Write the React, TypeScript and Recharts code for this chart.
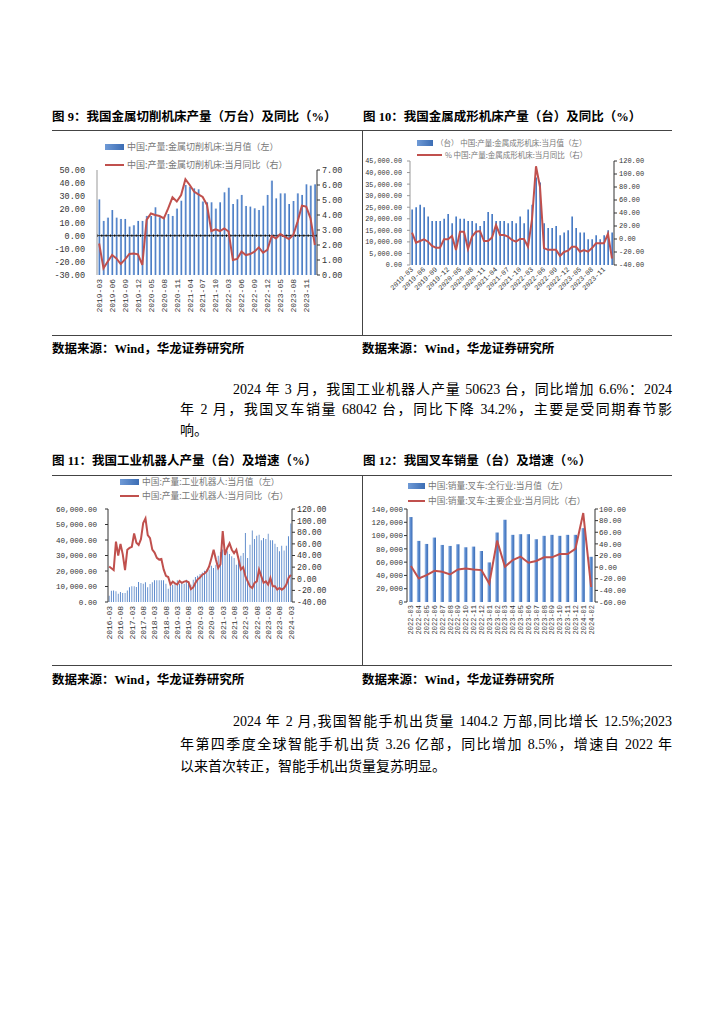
import React from "react";
import { ComposedChart, Bar, Line, XAxis, YAxis, ReferenceLine } from "recharts";

// 金属切削 / 成形机床：月度（1-2 月合并不单列）
const machineMonths = [
  "2019-03", "2019-04", "2019-05", "2019-06", "2019-07", "2019-08", "2019-09", "2019-10", "2019-11", "2019-12",
  "2020-03", "2020-04", "2020-05", "2020-06", "2020-07", "2020-08", "2020-09", "2020-10", "2020-11", "2020-12",
  "2021-03", "2021-04", "2021-05", "2021-06", "2021-07", "2021-08", "2021-09", "2021-10", "2021-11", "2021-12",
  "2022-03", "2022-04", "2022-05", "2022-06", "2022-07", "2022-08", "2022-09", "2022-10", "2022-11", "2022-12",
  "2023-03", "2023-04", "2023-05", "2023-06", "2023-07", "2023-08", "2023-09", "2023-10", "2023-11", "2023-12",
  "2024-03",
];

// 图9 左：万台
const cuttingOutput = [
  27.6, 11.2, 13.7, 19.5, 13.7, 12.7, 12.7, 6.9, 7.9, 11.2,
  11.2, 15.0, 15.0, 21.6, 14.0, 14.5, 16.5, 15.0, 20.6, 26.6,
  38.6, 37.3, 36.0, 35.3, 26.0, 25.4, 25.4, 20.6, 25.4, 33.0,
  36.5, 24.1, 27.7, 31.0, 22.6, 22.1, 20.8, 19.5, 22.8, 31.0,
  41.9, 28.4, 32.2, 32.2, 24.1, 26.4, 32.2, 31.0, 39.1, 38.1,
  39.1,
];
// 图9 右
const cuttingYoy = [
  2.1, 0.45, 0.9, 1.33, 1.1, 0.73, 1.04, 1.4, 1.44, 1.38,
  0.67, 3.67, 4.1, 4.0, 3.93, 3.78, 4.44, 5.18, 4.9, 5.33,
  6.38, 6.0, 5.56, 5.38, 5.2, 4.67, 2.93, 3.04, 2.93, 3.1,
  2.9, 1.0, 1.07, 1.56, 1.33, 1.4, 1.56, 1.84, 1.49, 1.67,
  2.6, 2.44, 2.73, 2.56, 2.4, 2.67, 3.56, 4.62, 4.56, 3.78,
  2.0,
];

// 图10 左：台
const formingOutput = [
  24000, 25000, 26100, 25000, 21000, 19000, 19000, 19000, 20000, 22100,
  18100, 21000, 20000, 20000, 19000, 19000, 18100, 16900, 19000, 22900,
  22100, 19000, 19000, 19000, 18100, 19000, 18100, 21000, 18100, 24000,
  26100, 37900, 35700, 18100, 16000, 16000, 16900, 12900, 14100, 15000,
  21000, 16000, 14100, 14100, 11100, 11100, 12900, 11100, 12900, 15000,
  14100,
];
// 图10 右
const formingYoy = [
  9.7, -5.6, -3.1, -0.5, -4.1, -10.8, -13.3, -13.3, -0.5, -0.5,
  4.6, -16.9, 11.3, 11.3, -15.4, 3.6, 11.3, 12.3, -3.1, -3.1,
  2.1, 21.5, 6.2, 6.2, 3.6, -1.5, -4.1, 0.0, 0.0, -12.0,
  30.0, 112.0, 80.0, -14.0, -16.7, -16.7, -16.7, -26.0, -20.0, -18.0,
  -12.0, -12.0, -19.5, -17.0, -19.5, -14.0, -6.7, -6.7, -6.5, 8.0,
  -30.0,
];

const robotMonths = [
  "2016-03", "2016-04", "2016-05", "2016-06", "2016-07", "2016-08", "2016-09", "2016-10", "2016-11", "2016-12",
  "2017-03", "2017-04", "2017-05", "2017-06", "2017-07", "2017-08", "2017-09", "2017-10", "2017-11", "2017-12",
  "2018-03", "2018-04", "2018-05", "2018-06", "2018-07", "2018-08", "2018-09", "2018-10", "2018-11", "2018-12",
  "2019-03", "2019-04", "2019-05", "2019-06", "2019-07", "2019-08", "2019-09", "2019-10", "2019-11", "2019-12",
  "2020-03", "2020-04", "2020-05", "2020-06", "2020-07", "2020-08", "2020-09", "2020-10", "2020-11", "2020-12",
  "2021-03", "2021-04", "2021-05", "2021-06", "2021-07", "2021-08", "2021-09", "2021-10", "2021-11", "2021-12",
  "2022-03", "2022-04", "2022-05", "2022-06", "2022-07", "2022-08", "2022-09", "2022-10", "2022-11", "2022-12",
  "2023-03", "2023-04", "2023-05", "2023-06", "2023-07", "2023-08", "2023-09", "2023-10", "2023-11", "2023-12",
  "2024-03",
];
const robotOutput = [
  4100, 7300, 7500, 6900, 5400, 6500, 5800, 5800, 7500, 9500,
  10100, 10100, 9700, 12900, 12300, 11800, 12700, 9500, 11600, 12700,
  14000, 14000, 14000, 14000, 14000, 11800, 8600, 10100, 11200, 11800,
  14000, 11800, 12300, 11800, 14400, 13300, 11200, 14400, 16100, 17000,
  18000, 19100, 20200, 20900, 20900, 23400, 21900, 24100, 29900, 32300,
  33800, 33800, 32700, 31000, 29500, 28400, 24100, 27300, 29900, 31600,
  44500, 28400, 37000, 46200, 40600, 42800, 43400, 39800, 41300, 40600,
  44100, 39800, 39800, 37600, 35500, 32700, 36300, 33300, 36300, 42400,
  50623,
];
const robotYoy = [
  21, 18, 15, 64, 40, 60, 42, 15, 50, 53,
  55, 78, 62, 58, 68, 96, 104, 75, 70, 50,
  45, 36, 33, 34, 16, 5, 3, -10, -5, -8,
  -10, -4, -7, -5, -4, -6, -18, -15, -7, -1,
  2, 7, 9, 13, 21, 35, 50, 33, 18.5, 25,
  82, 41, 53, 61, 50, 44, 50, 33, 16, 20,
  4, -4.5, -13, -16, -7, -4.5, 15.6, 4, -7, -4.5,
  -10, 1.3, -13, -13, -18.8, -16, -18.8, -16, -10, 1.3,
  6.6,
];

const forkliftMonths = [
  "2022-03", "2022-04", "2022-05", "2022-06", "2022-07", "2022-08", "2022-09", "2022-10", "2022-11", "2022-12",
  "2023-01", "2023-02", "2023-03", "2023-04", "2023-05", "2023-06", "2023-07", "2023-08", "2023-09", "2023-10",
  "2023-11", "2023-12", "2024-01", "2024-02",
];
const forkliftSales = [
  127900, 92000, 87400, 97000, 85900, 84400, 86900, 82400, 83400, 76800,
  59600, 104600, 123800, 101100, 102100, 102100, 94500, 99600, 101100, 99600,
  101100, 101100, 111200, 68042,
];
const forkliftYoy = [
  1.8, -19.6, -13.8, -6.3, -8.0, -12.7, -4.0, -2.3, -4.0, -5.1,
  -28.3, 45.7, 0.6, 12.2, 18.0, 7.6, 10.5, 16.8, 16.8, 22.6,
  22.6, 31.3, 93.0, -34.2,
];

const cuttingLeftTicks = [-30, -20, -10, 0, 10, 20, 30, 40, 50];
const cuttingRightTicks = [0, 1, 2, 3, 4, 5, 6, 7];
const formingLeftTicks = [0, 5000, 10000, 15000, 20000, 25000, 30000, 35000, 40000, 45000];
const yoyTicks120 = [-40, -20, 0, 20, 40, 60, 80, 100, 120];
const robotLeftTicks = [0, 10000, 20000, 30000, 40000, 50000, 60000];
const forkliftLeftTicks = [0, 20000, 40000, 60000, 80000, 100000, 120000, 140000];
const forkliftRightTicks = [-60, -40, -20, 0, 20, 40, 60, 80, 100];

const CN = '"Liberation Serif", "Noto Sans CJK SC", serif';
const MONO = '"Liberation Mono", "Noto Sans CJK SC", monospace';
const LEG = '"Noto Sans CJK SC", sans-serif';
const RED = "#c0504d";
const AXIS = "#333";

const fix2 = (v: number) => v.toFixed(2);
const thousands2 = (v: number) =>
  v.toLocaleString("en-US", { minimumFractionDigits: 2, maximumFractionDigits: 2 });
const thousands0 = (v: number) => v.toLocaleString("en-US");

function RotTick(props: any) {
  const { x, y, payload, angle, size } = props;
  return (
    <text
      x={x}
      y={y}
      dy={size * 0.35}
      transform={`rotate(${angle}, ${x}, ${y})`}
      textAnchor="end"
      fontSize={size}
      fill={AXIS}
      fontFamily={MONO}
    >
      {payload.value}
    </text>
  );
}

function Grad({ id }: { id: string }) {
  return (
    <defs>
      <linearGradient id={id} x1="0" y1="0" x2="1" y2="0">
        <stop offset="0%" stopColor="#b4cdee" />
        <stop offset="45%" stopColor="#5b8bd0" />
        <stop offset="100%" stopColor="#3c6db4" />
      </linearGradient>
    </defs>
  );
}

function LegendItem(props: {
  left: number;
  top: number;
  kind: "bar" | "line";
  text: string;
  size: number;
  iconW?: number;
}) {
  const { left, top, kind, text, size, iconW = 19 } = props;
  return (
    <div
      style={{
        position: "absolute",
        left,
        top,
        display: "flex",
        alignItems: "center",
        whiteSpace: "nowrap",
        fontFamily: LEG,
        fontSize: size,
        color: "#777",
        lineHeight: 1,
      }}
    >
      <span
        style={{
          display: "inline-block",
          width: iconW,
          height: kind === "bar" ? 6 : 2,
          background: kind === "bar" ? "linear-gradient(90deg,#6f9ad6,#3c6db4)" : RED,
          marginRight: 3,
        }}
      />
      <span>{text}</span>
    </div>
  );
}

const abs = (left: number, top: number, extra: React.CSSProperties = {}): React.CSSProperties => ({
  position: "absolute",
  left,
  top,
  ...extra,
});

function Title({ left, top, text }: { left: number; top: number; text: string }) {
  return (
    <div style={abs(left, top, { fontFamily: CN, fontWeight: 700, fontSize: 12.5, lineHeight: "16px", whiteSpace: "nowrap" })}>
      {text}
    </div>
  );
}

function Source({ left, top }: { left: number; top: number }) {
  return (
    <div style={abs(left, top, { fontFamily: CN, fontWeight: 700, fontSize: 12.5, lineHeight: "16px", whiteSpace: "nowrap" })}>
      数据来源：Wind，华龙证券研究所
    </div>
  );
}

function HRule({ top }: { top: number }) {
  return <div style={abs(52, top, { width: 620, height: 1, background: "#444" })} />;
}

function VRule({ top, height, left }: { top: number; height: number; left: number }) {
  return <div style={abs(left, top, { width: 1, height, background: "#444" })} />;
}

function TextLine({ left, top, width, text, justify }: { left: number; top: number; width: number; text: string; justify: boolean }) {
  return (
    <div
      style={abs(left, top, {
        width,
        fontFamily: CN,
        fontSize: 14,
        lineHeight: "20px",
        whiteSpace: "nowrap",
        textAlign: justify ? "justify" : "left",
        textAlignLast: justify ? "justify" : "left",
      })}
    >
      {text}
    </div>
  );
}

function CuttingChart() {
  const data = machineMonths.map((m, i) => ({ m, v: cuttingOutput[i], y: cuttingYoy[i] }));
  return (
    <div style={abs(52, 135)}>
      <ComposedChart width={310} height={190} data={data} margin={{ top: 35, right: 5, bottom: 5, left: 0 }} barCategoryGap="28%">
        <Grad id="g9" />
        <XAxis
          dataKey="m"
          interval={2}
          axisLine={false}
          tickLine={false}
          tickSize={0}
          tickMargin={4}
          height={45}
          tick={(p: any) => <RotTick {...p} angle={-90} size={8} />}
        />
        <YAxis
          yAxisId="left"
          domain={[-30, 50]}
          ticks={cuttingLeftTicks}
          interval={0}
          width={45}
          tickFormatter={fix2}
          tick={{ fontSize: 8.5, fill: AXIS, fontFamily: MONO }}
          axisLine={{ stroke: "#999" }}
          tickLine={false}
          tickSize={3}
          tickMargin={9}
          allowDataOverflow
        />
        <YAxis
          yAxisId="right"
          orientation="right"
          domain={[0, 7]}
          ticks={cuttingRightTicks}
          interval={0}
          width={40}
          tickFormatter={fix2}
          tick={{ fontSize: 8.5, fill: AXIS, fontFamily: MONO }}
          axisLine={{ stroke: AXIS }}
          tickLine={{ stroke: AXIS }}
          tickSize={3}
          tickMargin={2}
        />
        <Bar yAxisId="left" dataKey={(d: any) => [-30, d.v]} fill="url(#g9)" isAnimationActive={false} />
        <ReferenceLine yAxisId="left" y={0} stroke="#333" strokeWidth={1} />
        <ReferenceLine yAxisId="left" y={0} stroke="#000" strokeWidth={2.2} strokeDasharray="1 3.3" />
        <Line yAxisId="right" dataKey="y" stroke={RED} strokeWidth={2} dot={false} isAnimationActive={false} />
      </ComposedChart>
    </div>
  );
}

function FormingChart() {
  const data = machineMonths.map((m, i) => ({ m, v: formingOutput[i], y: formingYoy[i] }));
  return (
    <div style={abs(362, 135)}>
      <ComposedChart width={310} height={190} data={data} margin={{ top: 26, right: 18, bottom: 10, left: 0 }} barCategoryGap="25%">
        <Grad id="g10" />
        <XAxis
          dataKey="m"
          interval={2}
          axisLine={false}
          tickLine={false}
          tickSize={0}
          tickMargin={3}
          height={50}
          tick={(p: any) => <RotTick {...p} angle={-45} size={7} />}
        />
        <YAxis
          yAxisId="left"
          domain={[0, 45000]}
          ticks={formingLeftTicks}
          interval={0}
          width={48}
          tickFormatter={thousands2}
          tick={{ fontSize: 6.8, fill: AXIS, fontFamily: MONO }}
          axisLine={{ stroke: "#999" }}
          tickLine={{ stroke: "#999" }}
          tickSize={3}
          tickMargin={5}
        />
        <YAxis
          yAxisId="right"
          orientation="right"
          domain={[-40, 120]}
          ticks={yoyTicks120}
          interval={0}
          width={40}
          tickFormatter={fix2}
          tick={{ fontSize: 7, fill: AXIS, fontFamily: MONO }}
          axisLine={{ stroke: AXIS }}
          tickLine={{ stroke: AXIS }}
          tickSize={3}
          tickMargin={2}
        />
        <Bar yAxisId="left" dataKey="v" fill="url(#g10)" isAnimationActive={false} />
        <Line yAxisId="right" dataKey="y" stroke={RED} strokeWidth={2} dot={false} isAnimationActive={false} />
      </ComposedChart>
    </div>
  );
}

function RobotChart() {
  const data = robotMonths.map((m, i) => ({ m, v: robotOutput[i], y: robotYoy[i] }));
  return (
    <div style={abs(52, 470)}>
      <ComposedChart width={310} height={180} data={data} margin={{ top: 39, right: 25, bottom: 8, left: 0 }} barCategoryGap="22%">
        <Grad id="g11" />
        <XAxis
          dataKey="m"
          interval={4}
          axisLine={false}
          tickLine={false}
          tickSize={0}
          tickMargin={4}
          height={40}
          tick={(p: any) => <RotTick {...p} angle={-90} size={8} />}
        />
        <YAxis
          yAxisId="left"
          domain={[0, 60000]}
          ticks={robotLeftTicks}
          interval={0}
          width={56}
          tickFormatter={thousands2}
          tick={{ fontSize: 7.6, fill: AXIS, fontFamily: MONO }}
          axisLine={{ stroke: AXIS }}
          tickLine={{ stroke: AXIS }}
          tickSize={3}
          tickMargin={8}
        />
        <YAxis
          yAxisId="right"
          orientation="right"
          domain={[-40, 120]}
          ticks={yoyTicks120}
          interval={0}
          width={45}
          tickFormatter={fix2}
          tick={{ fontSize: 8.2, fill: AXIS, fontFamily: MONO }}
          axisLine={{ stroke: AXIS }}
          tickLine={{ stroke: AXIS }}
          tickSize={3}
          tickMargin={2}
        />
        <Bar yAxisId="left" dataKey="v" fill="url(#g11)" isAnimationActive={false} />
        <Line yAxisId="right" dataKey="y" stroke={RED} strokeWidth={2} dot={false} isAnimationActive={false} />
      </ComposedChart>
    </div>
  );
}

function ForkliftChart() {
  const data = forkliftMonths.map((m, i) => ({ m, v: forkliftSales[i], y: forkliftYoy[i] }));
  return (
    <div style={abs(362, 470)}>
      <ComposedChart width={310} height={180} data={data} margin={{ top: 39, right: 32, bottom: 8, left: 0 }} barSize={3.5}>
        <Grad id="g12" />
        <XAxis
          dataKey="m"
          interval={0}
          axisLine={false}
          tickLine={false}
          tickSize={0}
          tickMargin={3}
          height={40}
          tick={(p: any) => <RotTick {...p} angle={-90} size={7} />}
        />
        <YAxis
          yAxisId="left"
          domain={[0, 140000]}
          ticks={forkliftLeftTicks}
          interval={0}
          width={45}
          tickFormatter={thousands0}
          tick={{ fontSize: 7.5, fill: AXIS, fontFamily: MONO }}
          axisLine={{ stroke: AXIS }}
          tickLine={{ stroke: AXIS }}
          tickSize={3}
          tickMargin={1}
        />
        <YAxis
          yAxisId="right"
          orientation="right"
          domain={[-60, 100]}
          ticks={forkliftRightTicks}
          interval={0}
          width={45}
          tickFormatter={fix2}
          tick={{ fontSize: 7.5, fill: AXIS, fontFamily: MONO }}
          axisLine={{ stroke: AXIS }}
          tickLine={{ stroke: AXIS }}
          tickSize={3}
          tickMargin={1}
        />
        <Bar yAxisId="left" dataKey="v" fill="url(#g12)" isAnimationActive={false} />
        <Line yAxisId="right" dataKey="y" stroke={RED} strokeWidth={2} dot={false} isAnimationActive={false} />
      </ComposedChart>
    </div>
  );
}

export default function App() {
  return (
    <div style={{ position: "absolute", left: 0, top: 0, width: 724, height: 1024, background: "#fff", color: "#000", overflow: "hidden" }}>
      {/* 上排 */}
      <Title left={52} top={109} text="图 9：我国金属切削机床产量（万台）及同比（%）" />
      <Title left={363} top={109} text="图 10：我国金属成形机床产量（台）及同比（%）" />
      <HRule top={130} />
      <VRule left={362} top={130} height={205} />
      <CuttingChart />
      <FormingChart />
      <LegendItem left={105} top={142} kind="bar" text="中国:产量:金属切削机床:当月值（左）" size={9} />
      <LegendItem left={105} top={160} kind="line" text="中国:产量:金属切削机床:当月同比（右）" size={9} />
      <LegendItem left={417} top={139} kind="bar" iconW={16} text="（台）  中国:产量:金属成形机床:当月值（左）" size={7.5} />
      <LegendItem left={417} top={151} kind="line" iconW={25} text="%  中国:产量:金属成形机床:当月同比（右）" size={7.5} />
      <HRule top={335} />
      <Source left={52} top={341} />
      <Source left={362} top={341} />

      <TextLine left={233} top={380} width={439} justify text="2024 年 3 月，我国工业机器人产量 50623 台，同比增加 6.6%：2024" />
      <TextLine left={180} top={400} width={492} justify text="年 2 月，我国叉车销量 68042 台，同比下降 34.2%，主要是受同期春节影" />
      <TextLine left={180} top={421} width={492} justify={false} text="响。" />

      {/* 下排 */}
      <Title left={52} top={453} text="图 11：我国工业机器人产量（台）及增速（%）" />
      <Title left={363} top={453} text="图 12：我国叉车销量（台）及增速（%）" />
      <HRule top={475} />
      <VRule left={362} top={475} height={190} />
      <RobotChart />
      <ForkliftChart />
      <LegendItem left={120} top={478} kind="bar" text="中国:产量:工业机器人:当月值（左）" size={8.7} />
      <LegendItem left={120} top={492} kind="line" text="中国:产量:工业机器人:当月同比（右）" size={8.7} />
      <LegendItem left={408} top={482} kind="bar" iconW={17} text="中国:销量:叉车:全行业:当月值（左）" size={8.7} />
      <LegendItem left={408} top={497} kind="line" iconW={17} text="中国:销量:叉车:主要企业:当月同比（右）" size={8.7} />
      <HRule top={665} />
      <Source left={52} top={672} />
      <Source left={362} top={672} />

      <TextLine left={233} top={712} width={439} justify text="2024 年 2 月,我国智能手机出货量 1404.2 万部,同比增长 12.5%;2023" />
      <TextLine left={180} top={735} width={492} justify text="年第四季度全球智能手机出货 3.26 亿部，同比增加 8.5%，增速自 2022 年" />
      <TextLine left={180} top={757} width={492} justify={false} text="以来首次转正，智能手机出货量复苏明显。" />
    </div>
  );
}
